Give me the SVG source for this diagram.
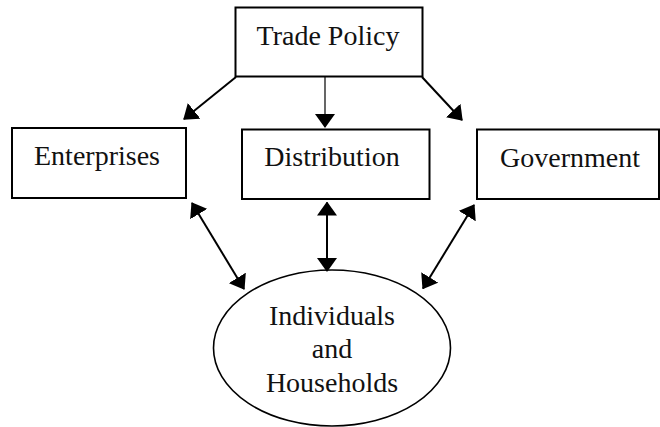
<svg xmlns="http://www.w3.org/2000/svg" width="660" height="427" viewBox="0 0 660 427">
<style>
.box{fill:#fff;stroke:#000;stroke-width:2}
.ell{fill:#fff;stroke:#000;stroke-width:1.6}
.lbl{font-family:"Liberation Serif","Times New Roman",serif;font-size:28px;fill:#111;text-anchor:middle}
.c{stroke:#000;stroke-width:2;fill:none}
.thin{stroke-width:1.2}
</style>
<defs>
<marker id="ah" markerUnits="userSpaceOnUse" markerWidth="14" markerHeight="20" viewBox="0 0 14 20" refX="13" refY="10" orient="auto-start-reverse">
<path d="M0,0 L14,10 L0,20 z" fill="#000"/>
</marker>
</defs>
<rect width="660" height="427" fill="#fff"/>
<g id="trade-policy">
<rect class="box" x="235.5" y="7.5" width="187" height="69"/>
<text class="lbl" x="328" y="45">Trade Policy</text>
</g>
<g id="enterprises">
<rect class="box" x="12" y="128" width="174" height="70"/>
<text class="lbl" x="97" y="165">Enterprises</text>
</g>
<g id="distribution">
<rect class="box" x="242" y="129.5" width="187.5" height="69.5"/>
<text class="lbl" x="332" y="166">Distribution</text>
</g>
<g id="government">
<rect class="box" x="477" y="129.5" width="182" height="69.5"/>
<text class="lbl" x="570" y="167">Government</text>
</g>
<g id="individuals-households">
<ellipse class="ell" cx="332" cy="348" rx="118.5" ry="78"/>
<text class="lbl" x="332" y="325">Individuals</text>
<text class="lbl" x="332" y="358">and</text>
<text class="lbl" x="332" y="392">Households</text>
</g>
<g id="connectors">
<line class="c" x1="236" y1="77" x2="184" y2="119" marker-end="url(#ah)"/>
<line class="c thin" x1="325" y1="77" x2="325" y2="127" marker-end="url(#ah)"/>
<line class="c" x1="422" y1="77" x2="462" y2="120" marker-end="url(#ah)"/>
<line class="c" x1="192" y1="203" x2="244" y2="289" marker-start="url(#ah)" marker-end="url(#ah)"/>
<line class="c" x1="327" y1="202.5" x2="327" y2="271" marker-start="url(#ah)" marker-end="url(#ah)"/>
<line class="c" x1="474" y1="205" x2="423" y2="288.5" marker-start="url(#ah)" marker-end="url(#ah)"/>
</g>
</svg>
